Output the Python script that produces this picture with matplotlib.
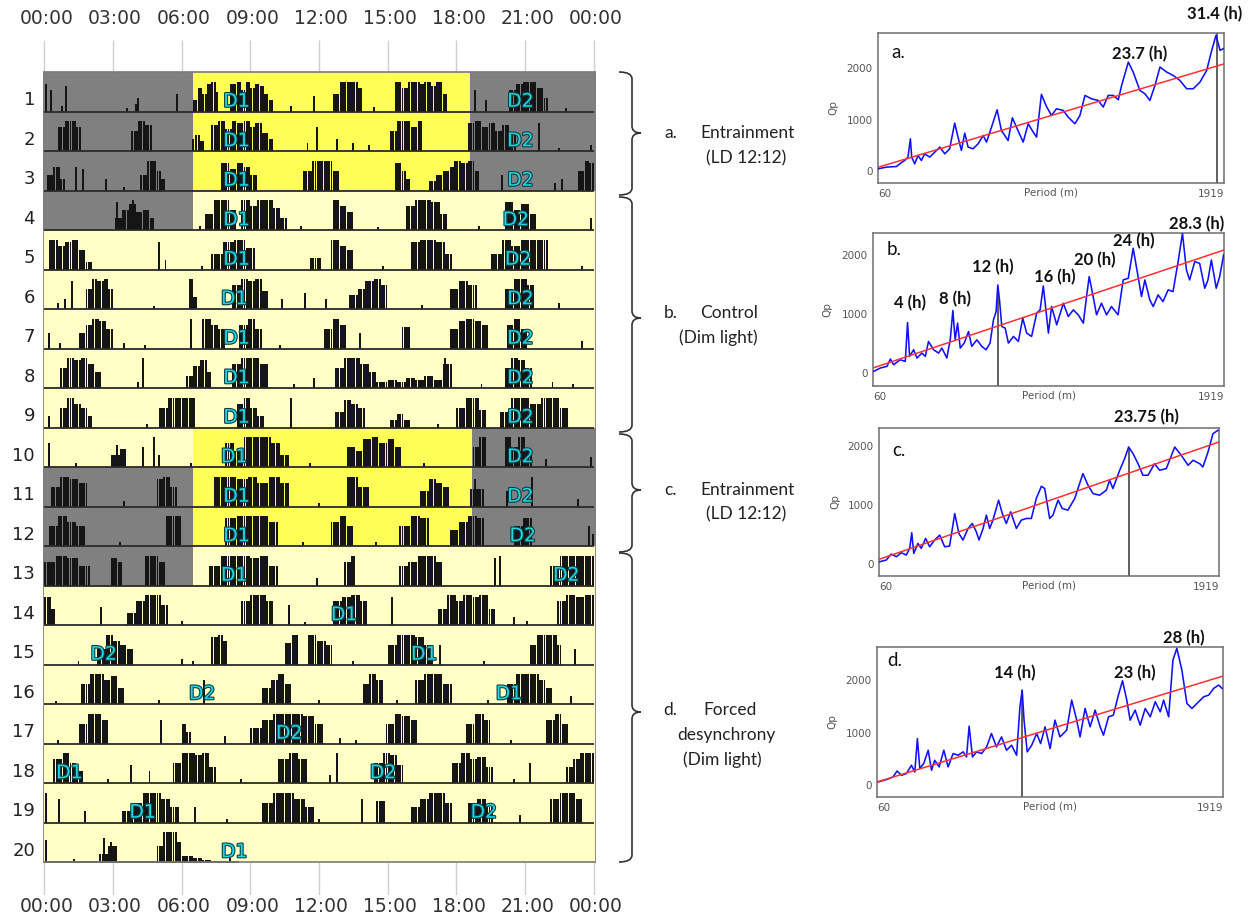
import matplotlib.pyplot as plt
from matplotlib.path import Path
from matplotlib.patches import PathPatch, Rectangle
import matplotlib.patheffects as pe
import numpy as np

W, H = 1260, 921

# ---------------------------------------------------------------- actogram data
HOUR_TICKS = [0, 3, 6, 9, 12, 15, 18, 21, 24]
HOUR_LABELS = ['00:00', '03:00', '06:00', '09:00', '12:00', '15:00', '18:00', '21:00', '00:00']

# light schedule of each day: (start h, end h, kind)
LD = [(0, 6.5, 'dark'), (6.5, 18.6, 'light'), (18.6, 24, 'dark')]
LD2 = [(0, 6.5, 'dark'), (6.5, 18.7, 'light'), (18.7, 24, 'dark')]
DARK_THEN_DIM = [(0, 6.5, 'dark'), (6.5, 24, 'dim')]
DIM = [(0, 24, 'dim')]
DAY_LIGHTS = ([LD] * 3 + [DARK_THEN_DIM] + [DIM] * 5
              + [[(0, 6.5, 'dim'), (6.5, 18.7, 'light'), (18.7, 24, 'dark')]]
              + [LD2] * 2 + [DARK_THEN_DIM] + [DIM] * 7)

# activity bouts per day: (start h, end h, bar heights across the bout)
DAY_BOUTS = [
    [(6.5, 7.6, (0.3, 0.6, 0.45, 0.7, 0.75, 0.5)), (8.1, 9.4, (0.7, 0.75, 0.55, 0.75, 0.6, 0.7)),
     (9.4, 10.0, (0.65, 0.45, 0.3)), (12.6, 13.9, (0.45, 0.75, 0.75, 0.75, 0.75, 0.6)),
     (15.3, 17.6, (0.75, 0.6, 0.75, 0.75, 0.7, 0.75, 0.65, 0.75, 0.45)),
     (20.3, 22.0, (0.55, 0.7, 0.75, 0.75, 0.6, 0.35))],
    [(0.6, 1.6, (0.6, 0.75, 0.75, 0.6)), (3.8, 4.7, (0.5, 0.75, 0.65)), (6.6, 7.0, (0.4, 0.25)),
     (7.3, 10.0, (0.65, 0.75, 0.55, 0.75, 0.7, 0.75, 0.6, 0.7, 0.45, 0.3)),
     (15.1, 16.5, (0.5, 0.75, 0.75, 0.6, 0.75)), (18.5, 20.6, (0.7, 0.75, 0.6, 0.7, 0.5, 0.65, 0.4))],
    [(0.1, 0.9, (0.4, 0.6, 0.3)), (4.2, 5.3, (0.4, 0.75, 0.75, 0.5, 0.3)),
     (7.7, 9.3, (0.7, 0.55, 0.7, 0.6, 0.4)), (11.3, 12.9, (0.5, 0.75, 0.75, 0.75, 0.5)),
     (15.3, 16.0, (0.7, 0.5, 0.3)), (16.8, 19.0, (0.25, 0.4, 0.5, 0.6, 0.75, 0.7, 0.75, 0.5)),
     (23.3, 24.0, (0.5, 0.75, 0.7))],
    [(3.1, 4.8, (0.3, 0.5, 0.65, 0.45, 0.5, 0.3)), (7.0, 8.4, (0.4, 0.75, 0.75, 0.5)),
     (8.6, 10.6, (0.75, 0.6, 0.75, 0.75, 0.55, 0.3)), (12.6, 13.5, (0.75, 0.6, 0.45)),
     (15.8, 17.6, (0.6, 0.75, 0.75, 0.7, 0.4)), (20.1, 21.5, (0.7, 0.5, 0.65, 0.4))],
    [(0.2, 2.1, (0.75, 0.6, 0.7, 0.75, 0.5, 0.2)), (7.3, 9.2, (0.4, 0.7, 0.75, 0.55)),
     (11.6, 12.1, (0.3,)), (12.5, 13.5, (0.75, 0.6, 0.5)), (16.0, 17.8, (0.7, 0.75, 0.75, 0.7, 0.4)),
     (19.5, 22.0, (0.4, 0.75, 0.6, 0.75, 0.75, 0.75))],
    [(1.8, 3.0, (0.5, 0.75, 0.7, 0.75, 0.5)), (6.3, 6.7, (0.75, 0.3)),
     (8.2, 9.8, (0.6, 0.75, 0.7, 0.75, 0.45)), (13.3, 15.0, (0.35, 0.5, 0.7, 0.75, 0.6)),
     (17.7, 18.9, (0.5, 0.7, 0.6)), (20.1, 21.4, (0.5, 0.75, 0.75, 0.6))],
    [(1.5, 3.0, (0.4, 0.6, 0.75, 0.7, 0.5)), (6.9, 7.9, (0.75, 0.6, 0.5)), (8.5, 9.5, (0.6, 0.75, 0.5)),
     (12.2, 13.2, (0.5, 0.75, 0.6)), (15.6, 16.0, (0.55,)), (17.7, 19.4, (0.5, 0.7, 0.75, 0.7, 0.6)),
     (20.2, 21.1, (0.6, 0.75, 0.5))],
    [(0.7, 2.5, (0.5, 0.75, 0.7, 0.75, 0.6, 0.4)), (6.2, 7.3, (0.3, 0.55, 0.7, 0.4)),
     (8.2, 9.8, (0.6, 0.75, 0.75, 0.6)), (12.7, 14.5, (0.5, 0.75, 0.75, 0.6, 0.4)),
     (14.5, 17.8, (0.15, 0.2, 0.15, 0.25, 0.2, 0.3, 0.2, 0.6)), (20.1, 21.3, (0.5, 0.75, 0.7, 0.5))],
    [(0.7, 2.1, (0.5, 0.75, 0.6, 0.5, 0.3)), (5.0, 6.6, (0.5, 0.75, 0.75, 0.75)),
     (8.4, 9.6, (0.6, 0.75, 0.5, 0.3)), (12.7, 14.0, (0.4, 0.7, 0.6, 0.5)), (15.1, 16.0, (0.2, 0.35, 0.2)),
     (18.0, 19.3, (0.5, 0.75, 0.75, 0.45)), (19.9, 22.9, (0.4, 0.75, 0.75, 0.6, 0.75, 0.75, 0.5))],
    [(2.9, 3.6, (0.3, 0.45)), (7.9, 10.7, (0.6, 0.4, 0.75, 0.75, 0.75, 0.6, 0.3)),
     (13.2, 15.6, (0.5, 0.4, 0.7, 0.75, 0.6, 0.7, 0.5)), (18.7, 19.3, (0.5, 0.75)),
     (20.1, 21.3, (0.75, 0.5, 0.75, 0.4))],
    [(0.3, 1.9, (0.5, 0.75, 0.7, 0.6)), (4.9, 5.8, (0.7, 0.75, 0.5)),
     (7.4, 10.7, (0.75, 0.75, 0.7, 0.75, 0.6, 0.75, 0.6)), (13.2, 14.2, (0.75, 0.5)),
     (16.4, 17.7, (0.4, 0.7, 0.6, 0.5)), (18.6, 19.2, (0.45,))],
    [(0.2, 1.8, (0.5, 0.75, 0.6, 0.5)), (5.3, 6.0, (0.75, 0.75)), (7.9, 10.2, (0.7, 0.75, 0.75, 0.75, 0.6)),
     (12.5, 13.5, (0.6, 0.75, 0.5)), (15.5, 16.8, (0.5, 0.75, 0.7)), (17.7, 19.2, (0.4, 0.6, 0.75, 0.7)),
     (20.5, 21.3, (0.5, 0.7))],
    [(0.0, 2.0, (0.6, 0.75, 0.7, 0.5)), (2.9, 3.4, (0.7, 0.6)), (4.4, 5.3, (0.75, 0.75, 0.6)),
     (7.2, 10.2, (0.5, 0.75, 0.75, 0.75, 0.7, 0.75, 0.5)), (13.1, 13.6, (0.6, 0.75)),
     (15.5, 17.4, (0.5, 0.6, 0.75, 0.75, 0.6)), (22.1, 24.0, (0.5, 0.75, 0.75, 0.75, 0.75))],
    [(0.0, 0.5, (0.7, 0.4)), (3.6, 5.4, (0.3, 0.6, 0.75, 0.75, 0.5)), (8.6, 10.0, (0.6, 0.75, 0.75, 0.6)),
     (12.6, 14.1, (0.6, 0.7, 0.75, 0.6)), (17.2, 19.7, (0.4, 0.75, 0.6, 0.75, 0.7, 0.75, 0.4)),
     (22.4, 24.0, (0.6, 0.75, 0.7, 0.75))],
    [(2.3, 3.9, (0.4, 0.75, 0.6, 0.5, 0.4)), (7.3, 8.0, (0.7, 0.75, 0.6)), (10.5, 11.1, (0.55, 0.75)),
     (11.5, 12.6, (0.75, 0.6, 0.5)), (15.0, 17.0, (0.5, 0.75, 0.75, 0.7, 0.5)),
     (21.2, 22.6, (0.5, 0.75, 0.75, 0.75, 0.5))],
    [(1.6, 3.5, (0.5, 0.75, 0.75, 0.6, 0.7, 0.4)), (9.5, 10.8, (0.4, 0.6, 0.75, 0.5)),
     (13.9, 14.8, (0.5, 0.75, 0.6)), (16.2, 17.8, (0.6, 0.75, 0.75, 0.5)),
     (20.2, 22.2, (0.5, 0.75, 0.75, 0.75, 0.6, 0.4))],
    [(1.5, 2.8, (0.5, 0.75, 0.75, 0.6)), (6.0, 6.4, (0.5, 0.3)),
     (9.0, 12.2, (0.4, 0.6, 0.75, 0.75, 0.75, 0.7, 0.5)), (14.9, 16.3, (0.5, 0.75, 0.7, 0.6)),
     (18.4, 19.5, (0.5, 0.75, 0.6)), (21.9, 22.9, (0.6, 0.75, 0.5))],
    [(0.4, 1.7, (0.6, 0.75, 0.5, 0.3)), (5.6, 7.5, (0.5, 0.75, 0.75, 0.7, 0.75, 0.4)),
     (10.2, 11.5, (0.6, 0.75, 0.6)), (14.4, 15.7, (0.5, 0.75, 0.7, 0.45)),
     (17.8, 19.6, (0.5, 0.75, 0.6, 0.65, 0.4)), (22.8, 24.0, (0.4, 0.6, 0.75, 0.75))],
    [(3.4, 5.9, (0.3, 0.5, 0.75, 0.75, 0.6, 0.4)), (9.5, 11.8, (0.5, 0.75, 0.75, 0.6, 0.4)),
     (14.5, 14.9, (0.55,)), (16.0, 17.8, (0.4, 0.6, 0.75, 0.75, 0.5)), (18.5, 19.6, (0.5, 0.6, 0.4)),
     (22.1, 23.5, (0.6, 0.75, 0.75, 0.6))],
    [(2.4, 3.2, (0.2, 0.4)), (4.9, 6.0, (0.4, 0.75, 0.75, 0.5)), (6.0, 7.3, (0.15, 0.1, 0.05))],
]

# isolated counts: (hour, height)
DAY_SPIKES = [
    [(0.1, 0.7), (0.3, 0.55), (0.8, 0.15), (0.95, 0.65), (3.6, 0.1), (4.0, 0.2), (4.1, 0.35), (5.8, 0.45),
     (10.8, 0.15), (11.8, 0.4), (14.4, 0.12), (18.8, 0.55), (19.3, 0.3), (22.8, 0.08)],
    [(6.5, 0.3), (11.5, 0.2), (11.9, 0.6), (12.8, 0.3), (13.5, 0.2), (14.2, 0.15), (21.6, 0.7), (22.5, 0.08),
     (23.9, 0.15)],
    [(1.4, 0.6), (1.7, 0.55), (2.7, 0.3), (3.5, 0.1), (20.0, 0.4), (22.3, 0.2), (22.6, 0.3)],
    [(3.2, 0.7), (3.9, 0.75), (6.8, 0.1), (11.2, 0.1), (14.6, 0.08), (19.0, 0.1), (23.9, 0.3)],
    [(5.0, 0.7), (5.3, 0.25), (6.9, 0.1), (14.8, 0.08), (23.5, 0.08)],
    [(0.6, 0.15), (0.9, 0.25), (1.2, 0.7), (4.8, 0.08), (10.4, 0.25), (11.4, 0.4), (12.3, 0.25), (16.5, 0.1),
     (22.5, 0.15)],
    [(0.2, 0.4), (0.7, 0.15), (3.5, 0.15), (4.4, 0.1), (6.4, 0.75), (10.3, 0.1), (13.8, 0.4), (23.5, 0.2)],
    [(4.1, 0.15), (4.3, 0.75), (10.9, 0.1), (11.8, 0.25), (17.5, 0.75), (19.1, 0.1), (22.2, 0.15), (23.1, 0.1)],
    [(0.2, 0.3), (4.5, 0.1), (10.8, 0.75), (17.2, 0.1)],
    [(0.2, 0.6), (1.4, 0.1), (3.2, 0.55), (4.3, 0.5), (4.8, 0.75), (5.0, 0.3), (6.4, 0.1), (11.6, 0.1),
     (16.6, 0.1), (21.9, 0.2), (23.9, 0.25)],
    [(3.5, 0.15), (12.0, 0.1), (18.8, 0.7), (20.2, 0.4), (21.3, 0.75), (23.3, 0.2)],
    [(3.3, 0.1), (11.3, 0.1), (14.5, 0.1), (23.8, 0.5), (23.95, 0.3)],
    [(11.9, 0.2), (19.7, 0.7), (19.9, 0.75)],
    [(2.5, 0.45), (6.0, 0.1), (10.7, 0.5), (11.4, 0.08), (15.2, 0.7), (20.5, 0.2), (21.1, 0.1)],
    [(1.5, 0.08), (6.0, 0.15), (6.5, 0.1), (13.5, 0.1), (17.3, 0.5), (19.2, 0.1), (23.2, 0.4)],
    [(0.5, 0.08), (5.0, 0.1), (7.0, 0.6), (12.0, 0.1), (15.4, 0.1), (19.4, 0.1), (23.0, 0.2)],
    [(0.6, 0.1), (5.1, 0.6), (7.9, 0.2), (12.9, 0.15), (13.6, 0.1), (20.4, 0.1)],
    [(2.8, 0.1), (3.8, 0.45), (4.6, 0.3), (8.6, 0.1), (12.5, 0.2), (12.8, 0.75), (20.5, 0.1), (21.2, 0.5)],
    [(0.1, 0.75), (0.65, 0.6), (1.8, 0.3), (6.6, 0.4), (8.0, 0.1), (12.0, 0.1), (13.9, 0.6), (20.8, 0.2)],
    [(0.1, 0.55), (1.3, 0.08), (2.6, 0.6), (2.9, 0.5), (8.1, 0.1)],
]

# last recorded hour of each day (recording stops on day 20)
DAY_END = [24] * 19 + [8.5]

# onset markers of the two activity components
D1_HOUR = [8.4, 8.4, 8.4, 8.4, 8.4, 8.3, 8.4, 8.4, 8.4, 8.3, 8.4, 8.4, 8.3, 13.1, 16.6, 20.3, None, 1.1, 4.3, 8.3]
D2_HOUR = [20.8, 20.8, 20.8, 20.6, 20.7, 20.8, 20.8, 20.8, 20.8, 20.8, 20.8, 20.9, 22.8, None, 2.6, 6.9, 10.7,
           14.8, 19.2, None]

# ---------------------------------------------------------------- periodogram data
# (period in minutes, Qp)
QP_A = [(60, 45), (105, 78), (159, 90), (177, 142), (203, 207), (221, 272), (234, 628), (241, 272), (257, 142),
        (275, 304), (293, 207), (311, 336), (338, 272), (365, 369), (392, 466), (419, 336), (445, 434),
        (472, 932), (490, 660), (508, 401), (526, 738), (544, 466), (571, 434), (598, 531), (625, 692),
        (643, 563), (670, 854), (700, 1191), (723, 790), (759, 595), (782, 1035), (804, 854), (840, 563),
        (867, 919), (894, 757), (912, 660), (938, 1489), (965, 1256), (992, 1081), (1019, 1210), (1055, 1178),
        (1082, 1048), (1118, 919), (1145, 1081), (1172, 1469), (1207, 1404), (1243, 1372), (1270, 1243),
        (1297, 1469), (1324, 1469), (1351, 1385), (1369, 1663), (1405, 2116), (1431, 1922), (1467, 1566),
        (1494, 1501), (1521, 1372), (1548, 1663), (1575, 2019), (1611, 1922), (1646, 1857), (1682, 1760),
        (1718, 1599), (1754, 1599), (1790, 1728), (1826, 1955), (1853, 2343), (1876, 2634), (1898, 2343),
        (1915, 2375)]
QP_B = [(64, 28), (99, 85), (134, 113), (152, 237), (169, 141), (204, 225), (231, 197), (243, 856), (254, 282),
        (275, 394), (293, 254), (319, 338), (337, 282), (354, 535), (381, 394), (407, 338), (425, 423),
        (451, 254), (469, 563), (483, 1059), (495, 563), (508, 845), (522, 423), (543, 507), (566, 704),
        (583, 451), (610, 563), (636, 451), (659, 394), (680, 507), (698, 901), (712, 1042), (721, 1493),
        (730, 1239), (742, 789), (760, 761), (777, 507), (804, 620), (830, 535), (853, 930), (874, 676),
        (900, 620), (927, 1014), (945, 1070), (962, 1476), (989, 676), (1006, 1127), (1033, 817), (1068, 1183),
        (1094, 958), (1121, 1070), (1147, 986), (1174, 845), (1191, 1296), (1205, 1634), (1226, 1296),
        (1244, 986), (1270, 1183), (1297, 986), (1323, 1127), (1358, 986), (1385, 1578), (1412, 1606),
        (1438, 2113), (1464, 1634), (1482, 1296), (1500, 1578), (1526, 1239), (1544, 1127), (1570, 1324),
        (1596, 1211), (1623, 1409), (1649, 1380), (1676, 1887), (1699, 2366), (1720, 1747), (1737, 1578),
        (1764, 1887), (1790, 1859), (1817, 1437), (1834, 1578), (1852, 1916), (1878, 1437), (1896, 1634),
        (1917, 2000)]
QP_C = [(64, 39), (100, 68), (127, 169), (155, 124), (182, 192), (209, 152), (228, 265), (239, 530), (250, 180),
        (273, 349), (291, 265), (315, 434), (337, 293), (364, 406), (392, 490), (419, 293), (446, 304),
        (474, 856), (497, 518), (519, 406), (547, 603), (570, 687), (592, 546), (607, 406), (629, 603),
        (647, 828), (665, 603), (683, 744), (714, 1082), (734, 856), (756, 687), (780, 885), (811, 603),
        (838, 744), (866, 772), (893, 772), (920, 1110), (948, 1318), (966, 1279), (993, 772), (1011, 828),
        (1039, 1082), (1062, 941), (1093, 913), (1130, 1110), (1175, 1532), (1203, 1335), (1230, 1194),
        (1266, 1166), (1303, 1251), (1321, 1420), (1339, 1279), (1376, 1589), (1403, 1786), (1425, 1983),
        (1449, 1871), (1476, 1701), (1503, 1504), (1531, 1504), (1567, 1701), (1594, 1589), (1631, 1617),
        (1677, 1983), (1713, 1842), (1750, 1673), (1777, 1758), (1813, 1701), (1831, 1645), (1859, 1899),
        (1886, 2209), (1913, 2265)]
QP_D = [(65, 57), (110, 102), (146, 153), (168, 267), (191, 185), (218, 217), (245, 376), (263, 248), (277, 885),
        (290, 312), (311, 408), (335, 662), (353, 280), (370, 471), (394, 344), (419, 662), (442, 344),
        (469, 599), (496, 567), (523, 631), (541, 535), (555, 1121), (573, 535), (595, 631), (622, 599),
        (649, 726), (675, 981), (702, 726), (729, 917), (756, 662), (783, 758), (810, 567), (828, 1490),
        (840, 1809), (850, 1236), (867, 631), (891, 758), (918, 981), (939, 790), (963, 1108), (990, 694),
        (1016, 1236), (1043, 917), (1079, 1044), (1106, 1618), (1133, 1236), (1151, 917), (1178, 1458),
        (1205, 1108), (1232, 1427), (1259, 1108), (1277, 949), (1304, 1299), (1330, 1331), (1357, 1713),
        (1379, 1987), (1402, 1618), (1420, 1236), (1447, 1427), (1474, 1140), (1501, 1458), (1528, 1299),
        (1555, 1586), (1582, 1395), (1600, 1618), (1627, 1299), (1650, 2382), (1671, 2605), (1698, 2191),
        (1725, 1554), (1752, 1458), (1779, 1554), (1815, 1681), (1842, 1713), (1869, 1841), (1896, 1904),
        (1914, 1841)]

# significance threshold at 60 and 1919 min
THRESH = {'a': (75, 2080), 'b': (85, 2085), 'c': (79, 2068), 'd': (57, 2076)}
# marked period in hours per panel
MARK_H = {'a': 31.4, 'b': 12, 'c': 23.75, 'd': 14}
# peak annotations: (hours, label x in minutes, label y in Qp)
PEAKS = {
    'a': [(31.4, 1871, 3050), (23.7, 1468, 2270)],
    'b': [(4, 256, 1186), (8, 494, 1254), (12, 696, 1797), (16, 1024, 1627), (20, 1236, 1915),
          (24, 1442, 2237), (28.3, 1776, 2525)],
    'c': [(23.75, 1520, 2492)],
    'd': [(14, 801, 2133), (23, 1446, 2133), (28, 1709, 2800)],
}

COLORS = {'dark': '#808080', 'light': '#ffff58', 'dim': '#ffffc6'}

fig = plt.figure(figsize=(W / 100, H / 100), dpi=100)

# full-figure layer in pixel units for braces and condition labels
ov = fig.add_axes([0, 0, 1, 1])
ov.set_xlim(0, W)
ov.set_ylim(H, 0)
ov.axis('off')

# ---------------------------------------------------------------- actogram
ROW_PX = 39.5
TOP_PAD = 32 / ROW_PX
BOT_PAD = 33 / ROW_PX
X0, X1 = -0.05, 24.1

ax = fig.add_axes([43 / W, 1 - 895 / H, 553 / W, 855 / H])
ax.set_xlim(X0, X1)
ax.set_ylim(20 + BOT_PAD, -TOP_PAD)
ax.axis('off')

for t, lab in zip(HOUR_TICKS, HOUR_LABELS):
    ax.vlines(t, -TOP_PAD, 0, color='#cfcfcf', lw=1)
    ax.vlines(t, 20, 20 + BOT_PAD, color='#cfcfcf', lw=1)
    ax.text(t + 0.1, -TOP_PAD - 0.55, lab, ha='center', va='center', fontsize=13.5, color='#333333')
    ax.text(t + 0.1, 20 + BOT_PAD + 0.3, lab, ha='center', va='center', fontsize=13.5, color='#333333')

BIN = 0.1
for r in range(20):
    base = r + 1
    for s, e, kind in DAY_LIGHTS[r]:
        s = X0 if s == 0 else s
        e = X1 if e == 24 else e
        ax.add_patch(Rectangle((s, r), e - s, 1, facecolor=COLORS[kind], edgecolor='none', zorder=1))

    xs, hs = [], []
    for s, e, prof in DAY_BOUTS[r]:
        n = max(1, int(round((e - s) / BIN)))
        for k in range(n):
            xs.append(s + BIN * (k + 0.5))
            hs.append(prof[int(k * len(prof) / n)])
    for x, h in DAY_SPIKES[r]:
        xs.append(x)
        hs.append(h)
    ax.bar(xs, -np.array(hs), width=0.085, bottom=base, color='#151515', edgecolor='none', zorder=2)
    ax.hlines(base, 0, DAY_END[r], color='#2a2a2a', lw=1.3, zorder=3)

    ax.text(-0.4, r + 0.72, str(r + 1), ha='right', va='center', fontsize=13, color='#222222')
    for hour, name in ((D1_HOUR[r], 'D1'), (D2_HOUR[r], 'D2')):
        if hour is None:
            continue
        ax.text(hour, r + 0.74, name, ha='center', va='center', fontsize=13.5, color='#1fd6e2', zorder=4,
                path_effects=[pe.withStroke(linewidth=1.6, foreground='#0d3f44')])

ax.add_patch(Rectangle((X0, 0), X1 - X0, 20, fill=False, edgecolor='#7a7a7a', lw=1.2, zorder=5))


# ---------------------------------------------------------------- braces and condition labels
def brace(x, y0, y1, ym, hook=13, tip=9, r=7):
    verts = [(x - hook, y0), (x, y0), (x, y0 + r), (x, ym - r), (x, ym), (x + tip, ym),
             (x, ym), (x, ym + r), (x, y1 - r), (x, y1), (x - hook, y1)]
    codes = [Path.MOVETO, Path.CURVE3, Path.CURVE3, Path.LINETO, Path.CURVE3, Path.CURVE3,
             Path.CURVE3, Path.CURVE3, Path.LINETO, Path.CURVE3, Path.CURVE3]
    ov.add_patch(PathPatch(Path(verts, codes), fill=False, lw=1.2, edgecolor='#333333'))


brace(632, 72, 195, 133)
brace(632, 197, 432, 318)
brace(632, 434, 552, 490)
brace(632, 553, 862, 712)

cond = dict(fontsize=12.5, family='Lato', color='#222222', va='center')
ov.text(664, 133, 'a.', **cond)
ov.text(700, 133, 'Entrainment', **cond)
ov.text(746, 158, '(LD 12:12)', ha='center', **cond)
ov.text(664, 313, 'b.', **cond)
ov.text(700, 313, 'Control', **cond)
ov.text(718, 338, '(Dim light)', ha='center', **cond)
ov.text(664, 490, 'c.', **cond)
ov.text(700, 490, 'Entrainment', **cond)
ov.text(746, 514, '(LD 12:12)', ha='center', **cond)
ov.text(663, 710, 'd.', **cond)
ov.text(703, 710, 'Forced', **cond)
ov.text(726, 735, 'desynchrony', ha='center', **cond)
ov.text(722, 760, '(Dim light)', ha='center', **cond)


# ---------------------------------------------------------------- periodograms
def periodogram(rect, data, key, ylim, letter_pos, full_mark=False):
    pax = fig.add_axes(rect)
    per, qp = zip(*data)
    pax.plot(per, qp, color='#1010ff', lw=1.15, zorder=3)
    t0, t1 = THRESH[key]
    pax.plot([60, 1919], [t0, t1], color='#ff3030', lw=1.1, zorder=4)
    mark = MARK_H[key] * 60
    top = ylim[1] if full_mark else np.interp(mark, per, qp)
    pax.vlines(mark, ylim[0], top, color='#333333', lw=1.1, zorder=2)
    pax.set_xlim(60, 1919)
    pax.set_ylim(*ylim)
    pax.set_xticks([60, 1919])
    pax.set_xticklabels(['60', '1919'])
    labs = pax.get_xticklabels()
    labs[0].set_ha('left')
    labs[1].set_ha('right')
    pax.set_yticks([0, 1000, 2000])
    pax.tick_params(length=0, labelsize=7.5, labelcolor='#555555', pad=4)
    pax.set_ylabel('Qp', fontsize=7.5, color='#555555')
    pax.yaxis.set_label_coords(-0.115, 0.5)
    pax.text(0.5, -0.028, 'Period (m)', transform=pax.transAxes, ha='center', va='top',
             fontsize=7.5, color='#555555')
    for sp in pax.spines.values():
        sp.set_color('#6e6e6e')
        sp.set_linewidth(1.1)
    pax.text(letter_pos[0], letter_pos[1], key + '.', transform=pax.transAxes, ha='left', va='center',
             fontsize=13.5, family='Lato', color='#111111')
    for hours, lx, ly in PEAKS[key]:
        pax.text(lx, ly, f'{hours:g} (h)', ha='center', va='center', fontsize=12, family='Lato',
                 fontweight='bold', color='#111111', clip_on=False)
    return pax


periodogram([878 / W, 1 - 183 / H, 346 / W, 150 / H], QP_A, 'a', (-230, 2680), (0.04, 0.87), full_mark=True)
periodogram([873 / W, 1 - 386 / H, 351 / W, 153 / H], QP_B, 'b', (-220, 2373), (0.04, 0.89))
periodogram([879 / W, 1 - 576 / H, 340 / W, 148 / H], QP_C, 'c', (-203, 2305), (0.04, 0.85))
periodogram([877 / W, 1 - 797 / H, 346 / W, 150 / H], QP_D, 'd', (-229, 2630), (0.03, 0.91))

fig.savefig('out.png', dpi=100)
